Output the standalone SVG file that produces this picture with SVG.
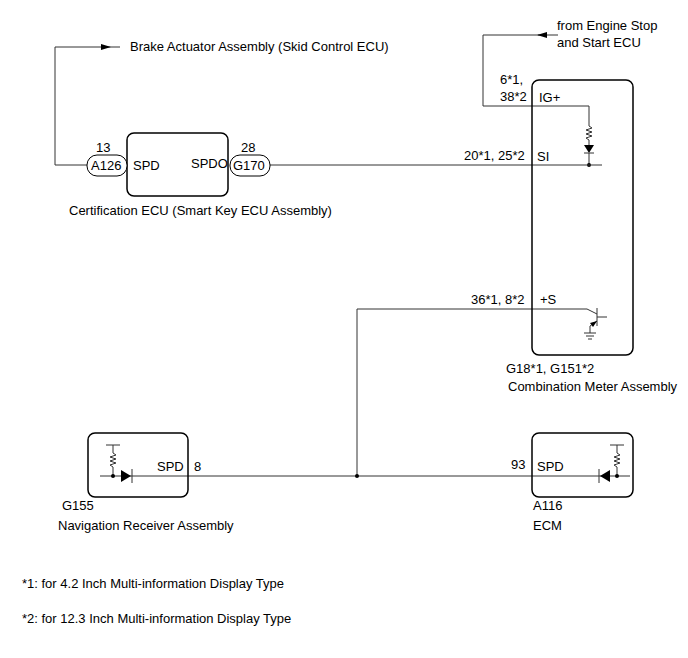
<svg xmlns="http://www.w3.org/2000/svg" width="688" height="658" viewBox="0 0 688 658">
<style>
text{font-family:"Liberation Sans",Arial,sans-serif;font-size:13px;fill:#000}
.w{fill:none;stroke:#333;stroke-width:1}
.b{fill:none;stroke:#000;stroke-width:1.5}
.p{fill:#fff;stroke:#000;stroke-width:1}
</style>
<defs>
<marker id="ar" markerWidth="10" markerHeight="6" refX="9" refY="3" orient="auto" markerUnits="userSpaceOnUse"><path d="M0,0L10,3L0,6z" fill="#000"/></marker>
</defs>
<rect width="688" height="658" fill="#fff"/>
<g id="connectors">
<path class="w" d="M87,165H55V47H110" marker-end="url(#ar)"/>
<line class="w" x1="110" y1="47" x2="120" y2="47"/>
<path class="w" d="M558,35H538" marker-end="url(#ar)"/>
<path class="w" d="M539,35H483V106H589V126"/>
<path class="w" d="M589,126l3,2l-6,2l6,2l-6,2l6,2l-6,2l3,2V145"/>
<path d="M584,145h10l-5,8z" fill="#000"/>
<path class="w" d="M584,153h10M589,153V165"/>
<circle cx="589" cy="165" r="2" fill="#000"/>
<line class="w" x1="270" y1="165" x2="602" y2="165"/>
<path class="w" d="M357,476V309H587l10,5"/>
<path class="w" d="M597,308v18M597,317h10"/>
<path class="w" d="M597,321l-7,5V333"/>
<path d="M597,321l-7,2l3,4z" fill="#000"/>
<path class="w" d="M584,333h12M586,336h8M588,339h4"/>
<line class="w" x1="100" y1="476" x2="630" y2="476"/>
<circle cx="357" cy="476" r="2" fill="#000"/>
</g>
<g id="cert">
<rect class="b" x="127" y="133" width="101" height="63" rx="7"/>
<rect class="p" x="87" y="155" width="40" height="21" rx="10"/>
<rect class="p" x="230" y="155" width="40" height="21" rx="10"/>
<text x="91" y="170">A126</text><text x="233" y="170">G170</text>
<text x="96" y="152">13</text><text x="241" y="152">28</text>
<text x="133" y="170">SPD</text><text x="191" y="168">SPDO</text>
<text x="69" y="215">Certification ECU (Smart Key ECU Assembly)</text>
</g>
<text x="130" y="51">Brake Actuator Assembly (Skid Control ECU)</text>
<text x="557" y="30">from Engine Stop</text>
<text x="557" y="47">and Start ECU</text>
<g id="meter">
<rect class="b" x="532" y="80" width="101" height="275" rx="7"/>
<text x="500" y="84">6*1,</text><text x="500" y="101">38*2</text>
<text x="539" y="102">IG+</text>
<text x="464" y="160">20*1, 25*2</text><text x="537" y="161">SI</text>
<text x="471" y="304">36*1, 8*2</text><text x="540" y="304">+S</text>
<text x="506" y="373">G18*1, G151*2</text>
<text x="508" y="391">Combination Meter Assembly</text>
</g>
<g id="nav">
<rect class="b" x="88" y="433" width="100" height="64" rx="7"/>
<path class="w" d="M106,445h14M113,445v8l3,2l-6,2l6,2l-6,2l6,2l-6,2l3,2V476"/>
<circle cx="113" cy="476" r="2" fill="#000"/>
<path d="M121,470v12l10,-6z" fill="#000"/><path class="w" d="M132,469v14"/>
<text x="157" y="471">SPD</text><text x="194" y="471">8</text>
<text x="62" y="510">G155</text><text x="58" y="530">Navigation Receiver Assembly</text>
</g>
<g id="ecm">
<rect class="b" x="532" y="433" width="101" height="64" rx="7"/>
<path class="w" d="M610,445h14M617,445v8l3,2l-6,2l6,2l-6,2l6,2l-6,2l3,2V476"/>
<circle cx="617" cy="476" r="2" fill="#000"/>
<path d="M610,470v12l-10,-6z" fill="#000"/><path class="w" d="M599,469v14"/>
<text x="537" y="471">SPD</text><text x="511" y="469">93</text>
<text x="533" y="510">A116</text><text x="533" y="530">ECM</text>
</g>
<text x="22" y="588">*1: for 4.2 Inch Multi-information Display Type</text>
<text x="22" y="623">*2: for 12.3 Inch Multi-information Display Type</text>
</svg>
